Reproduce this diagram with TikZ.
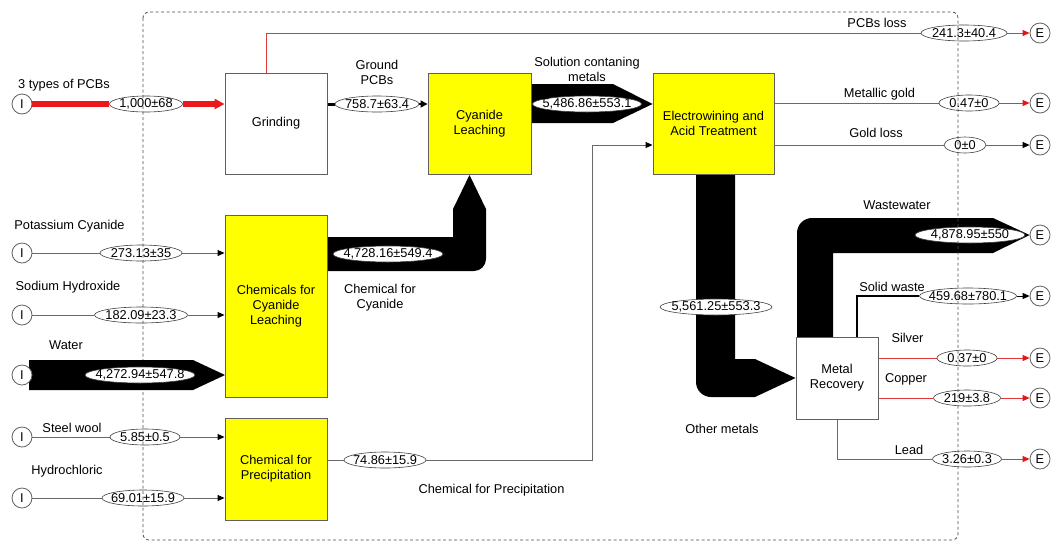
\documentclass[tikz,border=0pt]{standalone}
\usepackage{fontspec}
\setmainfont{Liberation Sans}
\usetikzlibrary{arrows.meta,calc,shapes.geometric}
\definecolor{procyellow}{RGB}{255,255,0}
\definecolor{edgegray}{RGB}{96,96,96}
\definecolor{linegray}{RGB}{105,105,105}
\definecolor{flowred}{RGB}{222,56,56}
\definecolor{headred}{RGB}{232,20,20}
\definecolor{thickred}{RGB}{236,24,28}
\pgfdeclarelayer{flows}
\pgfdeclarelayer{top}
\pgfsetlayers{flows,main,top}

\begin{document}
\begin{tikzpicture}[x=1pt,y=-1pt,
  every node/.style={font=\fontsize{12.8}{15}\selectfont},
  procbox/.style={draw=edgegray, line width=0.9pt, fill=white, inner sep=0pt, align=center},
  ybox/.style={procbox, fill=procyellow},
  val/.style={ellipse, draw=black!75, line width=0.6pt, fill=white,
              inner xsep=-15pt, inner ysep=-6pt, minimum height=16pt},
  io/.style={circle, draw=edgegray, line width=0.8pt, fill=white,
             minimum size=20pt, inner sep=0pt},
  lbl/.style={align=center, inner sep=0pt},
  gline/.style={draw=linegray, line width=0.9pt},
  garrow/.style={gline, -{Triangle[length=7pt,width=6pt,color=black]}},
  rline/.style={draw=flowred, line width=0.9pt},
  rarrow/.style={rline, -{Triangle[length=7pt,width=6pt,color=headred]}},
  boundary/.style={draw=black!70, line width=0.8pt, dash pattern=on 3pt off 2.5pt, rounded corners=6pt}
]
\useasboundingbox (0,0) rectangle (1051,542);

% process boxes
\node[procbox, minimum width=102pt, minimum height=101pt] (grind) at (276,123.5) {Grinding};
\node[ybox, minimum width=103pt, minimum height=101pt] (leach) at (479.5,123.5) {Cyanide\\Leaching};
\node[ybox, minimum width=121pt, minimum height=101pt] (ew) at (713.5,123.5) {Electrowining and\\Acid Treatment};
\node[ybox, minimum width=102pt, minimum height=182pt] (ccl) at (276,306) {Chemicals for\\Cyanide\\Leaching};
\node[ybox, minimum width=102pt, minimum height=102pt] (cfp) at (276,469) {Chemical for\\Precipitation};
\node[procbox, minimum width=82pt, minimum height=82pt] (mr) at (837,378) {Metal\\Recovery};

% inputs
\node[io] (i1) at (22,104) {I};
\node[io] (i2) at (22,253) {I};
\node[io] (i3) at (22,315) {I};
\node[io] (i5) at (22,437) {I};
\node[io] (i6) at (22,498) {I};

% exports
\node[io] (e1) at (1040,33) {E};
\node[io] (e2) at (1040,103) {E};
\node[io] (e3) at (1040,145) {E};
\node[io] (e4) at (1040,235) {E};
\node[io] (e5) at (1040,296) {E};
\node[io] (e6) at (1040,358) {E};
\node[io] (e7) at (1040,398) {E};
\node[io] (e8) at (1040,459) {E};

% flow values
\node[val, minimum width=73pt]  (v0)  at (146,104) {1,000±68};
\node[val, minimum width=84pt]  (v1)  at (377,104) {758.7±63.4};
\node[val, minimum width=109pt] (v2)  at (587,104) {5,486.86±553.1};
\node[val, minimum width=86pt]  (v3)  at (964,33)  {241.3±40.4};
\node[val, minimum width=60pt]  (v4)  at (969,103) {0.47±0};
\node[val, minimum width=42pt]  (v5)  at (965,145) {0±0};
\node[val, minimum width=82pt]  (v6)  at (141,253) {273.13±35};
\node[val, minimum width=93pt]  (v7)  at (141,315) {182.09±23.3};
\node[val, minimum width=110pt] (v9)  at (388,254) {4,728.16±549.4};
\node[val, minimum width=112pt] (v10) at (716,307) {5,561.25±553.3};
\node[val, minimum width=110pt] (v11) at (970,235) {4,878.95±550};
\node[val, minimum width=97pt]  (v12) at (968,296) {459.68±780.1};
\node[val, minimum width=60pt]  (v13) at (967,358) {0.37±0};
\node[val, minimum width=67pt]  (v14) at (967,398) {219±3.8};
\node[val, minimum width=69pt]  (v15) at (967,459) {3.26±0.3};
\node[val, minimum width=82pt]  (v16) at (385,460) {74.86±15.9};
\node[val, minimum width=70pt]  (v17) at (145,437) {5.85±0.5};
\node[val, minimum width=82pt]  (v18) at (143,498) {69.01±15.9};

% flow names
\node[lbl] (t1)  at (64,85)    {3 types of PCBs};
\node[lbl] (t2)  at (377,72)   {Ground\\PCBs};
\node[lbl] (t3)  at (587,69)   {Solution contaning\\metals};
\node[lbl] (t4)  at (877,23)   {PCBs loss};
\node[lbl] (t5)  at (879.5,94) {Metallic gold};
\node[lbl] (t6)  at (876,133)  {Gold loss};
\node[lbl] (t7)  at (69.5,226) {Potassium Cyanide};
\node[lbl] (t8)  at (68,287)   {Sodium Hydroxide};
\node[lbl] (t9)  at (66,345)   {Water};
\node[lbl] (t10) at (380,298)  {Chemical for\\Cyanide};
\node[lbl] (t11) at (897,205)  {Wastewater};
\node[lbl] (t12) at (892,287)  {Solid waste};
\node[lbl] (t13) at (907.5,338) {Silver};
\node[lbl] (t14) at (906,379)  {Copper};
\node[lbl] (t15) at (909,450)  {Lead};
\node[lbl] (t16) at (722,429)  {Other metals};
\node[lbl] (t17) at (72,428)   {Steel wool};
\node[lbl] (t18) at (67,471)   {Hydrochloric};
\node[lbl] (t19) at (491.5,490) {Chemical for Precipitation};

\begin{pgfonlayer}{flows}
  % boards into grinding
  \draw[draw=thickred, line width=6pt] (i1) -- (v0);
  \draw[draw=thickred, line width=6pt, -{Triangle[length=10pt,width=10pt,color=thickred]}] (v0) -- (i1 -| grind.west);
  % ground boards
  \draw[line width=3pt] (i1 -| grind.east) -- (v1);
  \draw[line width=1.5pt, -{Triangle[length=7pt,width=7pt]}] (v1) -- (i1 -| leach.west);
  % grinding loss
  \draw[rline] ($(grind.north)+(-10,0)$) |- (v3);
  \draw[rarrow] (v3) -- (e1);
  % leach solution band
  \fill (531,84) -- (613,84) -- (ew.west |- v2) -- (613,123) -- (531,123) -- cycle;
  % cyanide reagent band
  \fill (327,237) -- (453,237) -- (453,209) -- (469.5,175) -- (486,209) -- (486,259)
        .. controls (486,265.6) and (480.6,271) .. (474,271) -- (327,271) -- cycle;
  % reagent feeds
  \draw[gline] (i2) -- (v6);
  \draw[garrow] (v6) -- (i2 -| ccl.west);
  \draw[gline] (i3) -- (v7);
  \draw[garrow] (v7) -- (i3 -| ccl.west);
  \draw[gline] (i5) -- (v17);
  \draw[garrow] (v17) -- (i5 -| cfp.west);
  \draw[gline] (i6) -- (v18);
  \draw[garrow] (v18) -- (i6 -| cfp.west);
  % precipitation chemical to electrowinning
  \coordinate (pbend) at (592,145);
  \draw[gline] (cfp.east |- v16) -- (v16);
  \draw[garrow] (v16) -| (pbend) -- (pbend -| ew.west);
  % gold products
  \draw[rline] (ew.east |- v4) -- (v4);
  \draw[rarrow] (v4) -- (e2);
  \draw[gline] (ew.east |- v5) -- (v5);
  \draw[garrow] (v5) -- (e3);
  % other metals band
  \fill (696,174) -- (696,382) .. controls (696,390.3) and (702.7,397) .. (711,397)
        -- (755,397) -- (mr.west) -- (755,359) -- (735,359) -- (735,174) -- cycle;
  % wastewater band
  \fill (797,337) -- (797,233) .. controls (797,224.7) and (803.7,218) .. (812,218)
        -- (993,218) -- (e4.west) -- (993,253) -- (833,253) -- (833,337) -- cycle;
  % solid waste
  \draw[line width=2pt] ($(mr.north)+(20,0)$) |- (v12);
  \draw[line width=1pt, -{Triangle[length=7pt,width=6pt]}] (v12) -- (e5);
  % recovered metals
  \draw[rline] (mr.east |- v13) -- (v13);
  \draw[rarrow] (v13) -- (e6);
  \draw[rline] (mr.east |- v14) -- (v14);
  \draw[rarrow] (v14) -- (e7);
  \draw[rline] (mr.south) |- (v15);
  \draw[rarrow] (v15) -- (e8);
\end{pgfonlayer}

% system boundary
\draw[boundary] (143,12) rectangle (958,540);

% water feed
\begin{pgfonlayer}{top}
  \fill (29,360) -- (193,360) -- (225,375) -- (193,390) -- (29,390) -- cycle;
  \node[io] (i4) at (22,375) {I};
  \node[val, minimum width=110pt] (v8) at (140,375) {4,272.94±547.8};
\end{pgfonlayer}
\end{tikzpicture}
\end{document}
